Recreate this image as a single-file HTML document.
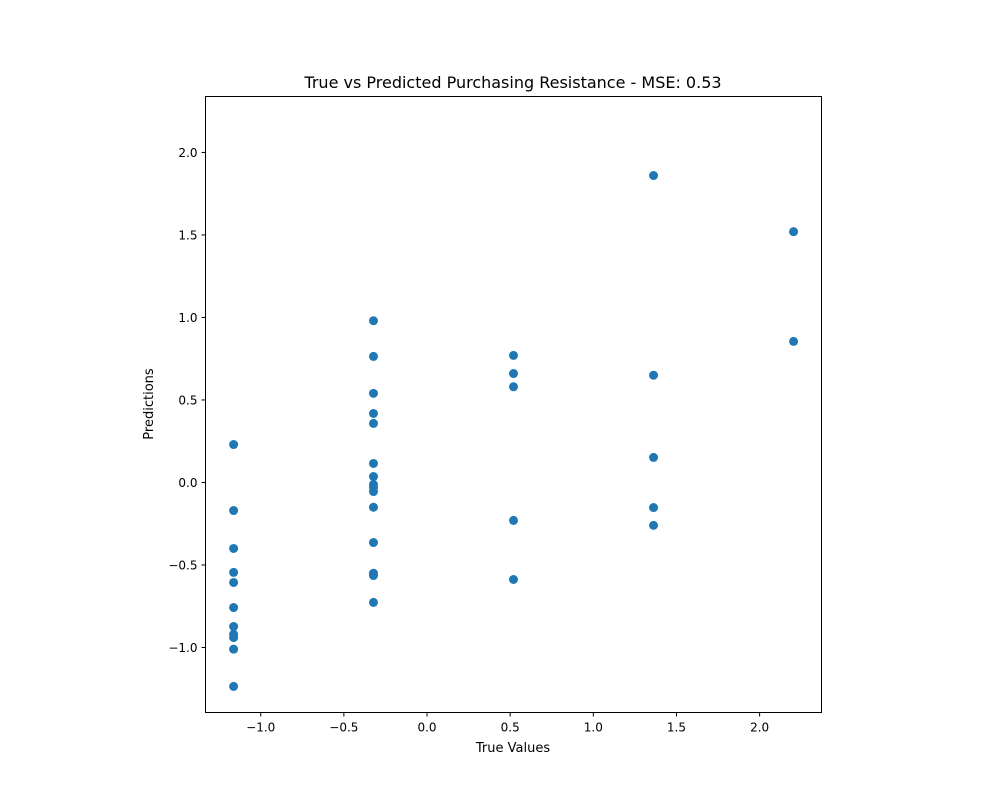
<!DOCTYPE html>
<html><head><meta charset="utf-8"><style>
body{margin:0;background:#fff;font-family:"DejaVu Sans","Liberation Sans",sans-serif;}
svg text{font-family:"DejaVu Sans","Liberation Sans",sans-serif;}
</style></head><body>
<svg id="chart" width="1000" height="800" xmlns="http://www.w3.org/2000/svg">
<rect width="1000" height="800" fill="#fff"/>
<text x="513" y="88" text-anchor="middle" font-size="16">True vs Predicted Purchasing Resistance - MSE: 0.53</text>
<text x="513" y="752" text-anchor="middle" font-size="13">True Values</text>
<text x="153" y="404" text-anchor="middle" font-size="13" transform="rotate(-90 153 404)">Predictions</text>
<g id="marks"></g>
<g id="axes"></g>
<rect x="205.5" y="96.5" width="616" height="616" fill="none" stroke="#000" stroke-width="1"/>
</svg>
<script>
const xVals = [-1.163,-1.163,-1.163,-1.163,-1.163,-1.163,-1.163,-1.163,-1.163,-1.163,-1.163,
 -0.322,-0.322,-0.322,-0.322,-0.322,-0.322,-0.322,-0.322,-0.322,-0.322,-0.322,-0.322,-0.322,-0.322,-0.322,
 0.52,0.52,0.52,0.52,0.52,
 1.362,1.362,1.362,1.362,1.362,
 2.204,2.204];
const yVals = [0.23,-0.17,-0.40,-0.545,-0.606,-0.758,-0.873,-0.92,-0.94,-1.01,-1.236,
 0.98,0.764,0.54,0.418,0.358,0.115,0.036,-0.012,-0.03,-0.055,-0.15,-0.364,-0.55,-0.564,-0.727,
 0.77,0.66,0.58,-0.23,-0.588,
 1.86,0.65,0.152,-0.152,-0.26,
 1.52,0.855];
const xTicks = [-1.0,-0.5,0.0,0.5,1.0,1.5,2.0];
const yTicks = [-1.0,-0.5,0.0,0.5,1.0,1.5,2.0];
const xMin=-1.332, xMax=2.372, yMin=-1.394, yMax=2.339;
const L=205.5,R=821.5,T=96.5,B=712.5;
function sx(v){return L+(v-xMin)/(xMax-xMin)*(R-L);}
function sy(v){return B-(v-yMin)/(yMax-yMin)*(B-T);}
const NS="http://www.w3.org/2000/svg";
const marks=document.getElementById('marks'), axes=document.getElementById('axes');
function fmt(v){return (v<0?"\u2212":"")+Math.abs(v).toFixed(1);}
for(let i=0;i<xVals.length;i++){
 const c=document.createElementNS(NS,'circle');
 c.setAttribute('cx',sx(xVals[i]));c.setAttribute('cy',sy(yVals[i]));c.setAttribute('r',4.5);c.setAttribute('fill','#1f77b4');
 
 
 marks.appendChild(c);
}
xTicks.forEach(v=>{
 const x=sx(v);
 const l=document.createElementNS(NS,'line');
 l.setAttribute('x1',x);l.setAttribute('x2',x);l.setAttribute('y1',B);l.setAttribute('y2',B+4);l.setAttribute('stroke','#000');
 
 
 axes.appendChild(l);
 const t=document.createElementNS(NS,'text');
 t.setAttribute('x',x);t.setAttribute('y',B+19);t.setAttribute('text-anchor','middle');t.setAttribute('font-size','12');
 t.textContent=fmt(v);
 
 
 axes.appendChild(t);
});
yTicks.forEach(v=>{
 const y=sy(v);
 const l=document.createElementNS(NS,'line');
 l.setAttribute('x1',L-4);l.setAttribute('x2',L);l.setAttribute('y1',y);l.setAttribute('y2',y);l.setAttribute('stroke','#000');
 
 
 axes.appendChild(l);
 const t=document.createElementNS(NS,'text');
 t.setAttribute('x',L-8);t.setAttribute('y',y+4.5);t.setAttribute('text-anchor','end');t.setAttribute('font-size','12');
 t.textContent=fmt(v);
 
 
 axes.appendChild(t);
});
</script>
</body></html>
